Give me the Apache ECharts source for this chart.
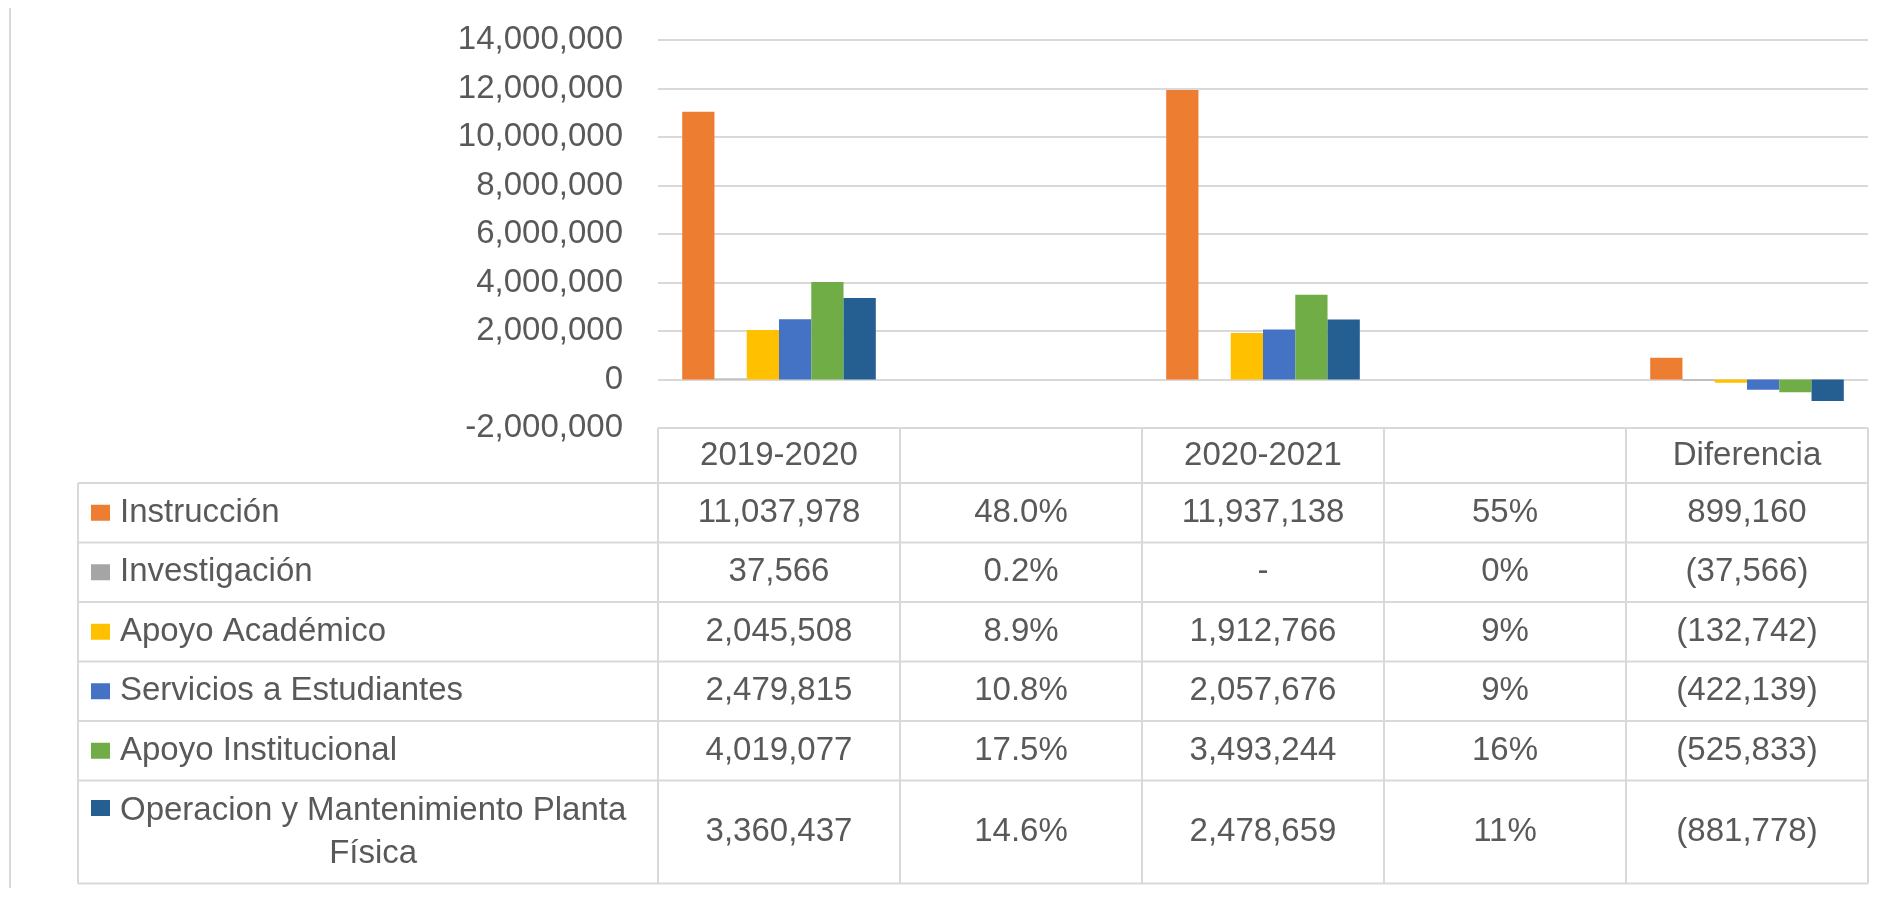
<!DOCTYPE html>
<html>
<head>
<meta charset="utf-8">
<script src="https://cdn.jsdelivr.net/npm/echarts@6/dist/echarts.min.js"></script>
<style>
  html, body { margin: 0; padding: 0; background: #fff; }
  #chart { width: 1888px; height: 900px; }
</style>
</head>
<body>
<div id="chart"></div>
<script>
// columnas de la tabla (las vacías son los porcentajes)
const categories = ['2019-2020', '', '2020-2021', '', 'Diferencia'];
const seriesNames = ['Instrucción', 'Investigación', 'Apoyo Académico', 'Servicios a Estudiantes', 'Apoyo Institucional', 'Operacion y Mantenimiento Planta Física'];
const seriesColors = ['#ED7D31', '#A5A5A5', '#FFC000', '#4472C4', '#70AD47', '#255E91'];
const year2019 = [11037978, 37566, 2045508, 2479815, 4019077, 3360437];
const pct2019 = [0.480, 0.002, 0.089, 0.108, 0.175, 0.146];
const year2020 = [11937138, 0, 1912766, 2057676, 3493244, 2478659];
const pct2020 = [0.55, 0, 0.09, 0.09, 0.16, 0.11];
const diferencia = [899160, -37566, -132742, -422139, -525833, -881778];
const yMin = -2000000;
const yMax = 14000000;
const yStep = 2000000;

const FONT = 'Liberation Sans';
const TEXT = '#595959';
const LINE = '#D9D9D9';
const FS = 33;

const fmtNum = (v) => {
  if (v === 0) return '-';
  const s = Math.abs(v).toLocaleString('en-US');
  return v < 0 ? '(' + s + ')' : s;
};
const fmtPct = (v, d) => (v * 100).toFixed(d) + '%';

const columns = [
  year2019.map(fmtNum),
  pct2019.map((v) => fmtPct(v, 1)),
  year2020.map(fmtNum),
  pct2020.map((v) => fmtPct(v, 0)),
  diferencia.map(fmtNum),
];

const chart = echarts.init(document.getElementById('chart'));

chart.setOption({
  animation: false,
  grid: { left: 658, right: 20, top: 40, height: 388 },
  xAxis: {
    type: 'category',
    data: categories,
    axisLine: { show: false, onZero: false },
    axisTick: { show: false },
    axisLabel: { margin: 11, fontSize: FS, fontFamily: FONT, color: TEXT },
  },
  yAxis: {
    type: 'value',
    min: yMin,
    max: yMax,
    interval: yStep,
    axisLine: { show: false },
    axisTick: { show: false },
    axisLabel: {
      margin: 35,
      fontSize: FS,
      fontFamily: FONT,
      color: TEXT,
      formatter: (v) => v.toLocaleString('en-US'),
    },
    splitLine: { lineStyle: { color: LINE, width: 2 } },
  },
  series: seriesNames.map((name, i) => ({
    name: name,
    type: 'bar',
    barGap: '0%',
    barCategoryGap: '20%',
    itemStyle: { color: seriesColors[i] },
    data: [year2019[i], pct2019[i], year2020[i], pct2020[i], diferencia[i]],
  })),
});

// tabla de datos debajo del eje
const ctx = document.createElement('canvas').getContext('2d');
ctx.font = FS + 'px "' + FONT + '"';
const wrap = (txt, maxW) => {
  const words = txt.split(' ');
  const lines = [];
  let cur = '';
  for (const w of words) {
    const test = cur ? cur + ' ' + w : w;
    if (cur && ctx.measureText(test).width > maxW) {
      lines.push(cur);
      cur = w;
    } else {
      cur = test;
    }
  }
  lines.push(cur);
  return lines;
};

const gridLeft = 658;
const gridRight = 1888 - 20;
const band = (gridRight - gridLeft) / categories.length;
const tableLeft = 78;
const headTop = chart.convertToPixel({ yAxisIndex: 0 }, yMin);
const headBottom = headTop + 55;
const labelX = 120;

const g = [];
const hline = (y, x1, x2) => g.push({
  type: 'line', silent: true,
  shape: { x1: x1, y1: y, x2: x2, y2: y },
  style: { stroke: LINE, lineWidth: 2 },
});
const vline = (x, y1, y2) => g.push({
  type: 'line', silent: true,
  shape: { x1: x, y1: y1, x2: x, y2: y2 },
  style: { stroke: LINE, lineWidth: 2 },
});

let y = headBottom;
const rowTops = [];
seriesNames.forEach((name, i) => {
  const lines = wrap(name, gridLeft - labelX - 8);
  const h = lines.length > 1 ? 103 : 59.5;
  rowTops.push(y);
  const cy = y + h / 2;
  // cuadro de color
  g.push({
    type: 'rect', silent: true,
    shape: { x: 91, y: lines.length > 1 ? cy - 32 : cy - 8, width: 19, height: 16 },
    style: { fill: seriesColors[i] },
  });
  const maxW = Math.max(...lines.map((l) => ctx.measureText(l).width));
  g.push({
    type: 'text', silent: true,
    x: lines.length > 1 ? labelX + maxW / 2 : labelX,
    y: cy,
    style: {
      text: lines.join('\n'),
      font: FS + 'px "' + FONT + '"',
      fill: TEXT,
      align: lines.length > 1 ? 'center' : 'left',
      verticalAlign: 'middle',
      lineHeight: 43,
    },
  });
  columns.forEach((col, c) => {
    const cx = chart.convertToPixel({ xAxisIndex: 0 }, c);
    g.push({
      type: 'text', silent: true,
      x: cx, y: cy,
      style: {
        text: col[i],
        font: FS + 'px "' + FONT + '"',
        fill: TEXT,
        align: 'center',
        verticalAlign: 'middle',
      },
    });
  });
  y += h;
});
const tableBottom = y;

hline(headTop, gridLeft, gridRight);
hline(headBottom, tableLeft, gridRight);
rowTops.slice(1).forEach((ry) => hline(ry, tableLeft, gridRight));
hline(tableBottom, tableLeft, gridRight);
vline(tableLeft, headBottom, tableBottom);
for (let c = 0; c <= categories.length; c++) {
  vline(gridLeft + c * band, headTop, tableBottom);
}
// borde izquierdo del área del gráfico
vline(10, 8, 888);

chart.setOption({ graphic: g });
</script>
</body>
</html>
